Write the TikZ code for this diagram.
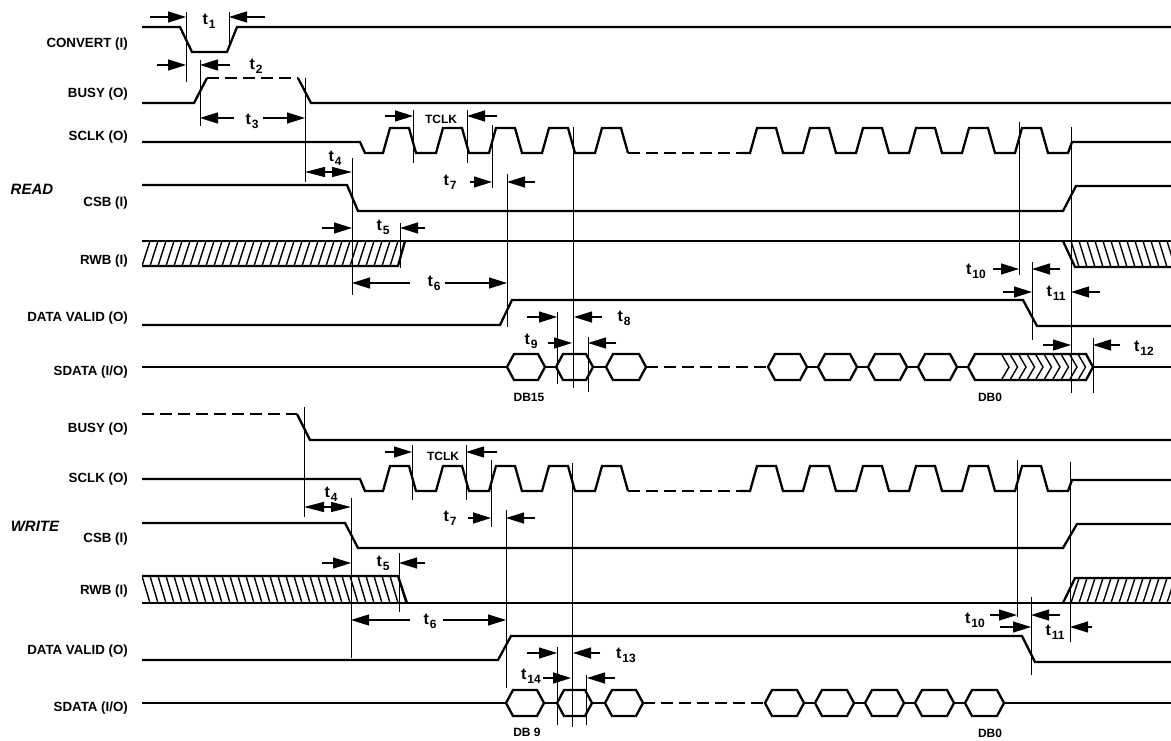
\documentclass[tikz,border=0pt]{standalone}
\usepackage{fontspec}
\setmainfont{Liberation Sans}
\usetikzlibrary{arrows.meta}

\newcommand{\tsub}[1]{{\fontsize{16}{16}\selectfont t}\kern1pt\raisebox{-4pt}{\fontsize{12}{12}\selectfont #1}}
\newcommand{\hexa}[3]{\draw[sig] (#1,#3) -- (#1+7,#3-13) -- (#2-7,#3-13) -- (#2,#3) -- (#2-7,#3+13) -- (#1+7,#3+13) -- cycle;}

\tikzset{
  sig/.style={line width=2.3pt},
  dsig/.style={sig, dash pattern=on 12pt off 6pt},
  guide/.style={line width=1pt},
  tarr/.style={line width=1.3pt, -{Triangle[length=18pt,width=11pt]}},
  darr/.style={line width=1.3pt, {Triangle[length=20pt,width=10pt]}-{Triangle[length=20pt,width=10pt]}},
  hatch/.style={line width=1.4pt},
  sname/.style={anchor=base east, inner sep=0pt, font=\bfseries\fontsize{13.3}{15}\selectfont},
  modelbl/.style={inner sep=0pt, font=\bfseries\itshape\fontsize{15}{17}\selectfont},
  tlab/.style={inner sep=0pt, font=\bfseries},
  dblabel/.style={inner sep=0pt, font=\bfseries\fontsize{12}{14}\selectfont}
}

\begin{document}
\begin{tikzpicture}[x=1pt,y=-1pt]
  \useasboundingbox (0,0) rectangle (1171,741);

  % Signal names
  \node[sname] (nConvert) at (128,47.5) {CONVERT (I)};
  \node[sname] (nBusyR) at (128,97.5) {BUSY (O)};
  \node[sname] (nSclkR) at (128,140.5) {SCLK (O)};
  \node[sname] (nCsbR) at (128,206.5) {CSB (I)};
  \node[sname] (nRwbR) at (128,264.5) {RWB (I)};
  \node[sname] (nValidR) at (128,321.5) {DATA VALID (O)};
  \node[sname] (nSdataR) at (128,375.5) {SDATA (I/O)};
  \node[sname] (nBusyW) at (128,432.5) {BUSY (O)};
  \node[sname] (nSclkW) at (128,482.5) {SCLK (O)};
  \node[sname] (nCsbW) at (128,542.5) {CSB (I)};
  \node[sname] (nRwbW) at (128,594.5) {RWB (I)};
  \node[sname] (nValidW) at (128,654.5) {DATA VALID (O)};
  \node[sname] (nSdataW) at (128,711.5) {SDATA (I/O)};
  \node[modelbl] (nRead) at (32,189) {READ};
  \node[modelbl] (nWrite) at (35,526) {WRITE};

  % READ waveforms
  \draw[sig] (142,27) -- (180,27) -- (192,52) -- (227,52) -- (237,27) -- (1171,27);
  \draw[sig] (142,103) -- (194,103) -- (207,78);
  \draw[dsig] (207,78) -- (298,78);
  \draw[sig] (298,78) -- (311,103) -- (1171,103);
  \draw[sig] (142,142) -- (360,142) -- (365,153)
    \foreach \x in {383,436,489,542,595} {-- (\x,153) -- (\x+7,128) -- (\x+26,128) -- (\x+33,153)};
  \draw[dsig] (628,153) -- (740,153);
  \draw[sig] (740,153)
    \foreach \x in {750,803,856,909,962,1015} {-- (\x,153) -- (\x+7,128) -- (\x+26,128) -- (\x+33,153)}
    -- (1068,153) -- (1072,142) -- (1171,142);
  \draw[sig] (142,185) -- (347,185) -- (358,211) -- (1063,211) -- (1076,186) -- (1171,186);
  % RWB read
  \draw[sig] (142,241) -- (1171,241);
  \begin{scope}
    \clip (142,241) -- (405,241) -- (398,266) -- (142,266) -- cycle;
    \foreach \x in {134,142,...,414} \draw[hatch] (\x,266) -- (\x+8,241);
  \end{scope}
  \draw[sig] (142,266) -- (398,266) -- (405,241);
  \begin{scope}
    \clip (1063,241) -- (1171,241) -- (1171,267) -- (1075,267) -- cycle;
    \foreach \x in {1063,1071,...,1175} \draw[hatch] (\x,241) -- (\x+8,267);
  \end{scope}
  \draw[sig] (1063,241) -- (1075,267) -- (1171,267);
  \draw[sig] (142,325) -- (500,325) -- (512,300) -- (1023,300) -- (1037,326) -- (1171,326);
  % SDATA read
  \draw[sig] (142,367) -- (507,367);
  \hexa{507}{545}{367}
  \draw[sig] (545,367) -- (556,367);
  \hexa{556}{593}{367}
  \draw[sig] (593,367) -- (606,367);
  \hexa{606}{646}{367}
  \draw[dsig] (646,367) -- (768,367);
  \foreach \x in {768,818,868,918} {
    \hexa{\x}{\x+39}{367}
    \draw[sig] (\x+39,367) -- (\x+50,367);
  }
  \hexa{968}{1093}{367}
  \foreach \i in {0,...,9} \draw[hatch] (1002+8.5*\i,355) -- (1009+8.5*\i,367) -- (1002+8.5*\i,379);
  \draw[sig] (1093,367) -- (1171,367);
  \node[dblabel] (db15) at (529,397) {DB15};
  \node[dblabel] (db0R) at (990,397) {DB0};

  % READ timing marks
  \draw[guide] (186,12) -- (186,82);
  \draw[guide] (229,12) -- (229,48);
  \draw[tarr] (150,17) -- (186,17);
  \draw[tarr] (265,17) -- (229,17);
  \node[tlab] (t1) at (209,21) {\tsub{1}};
  \draw[guide] (200,60) -- (200,126);
  \draw[tarr] (157,65) -- (186,65);
  \draw[tarr] (230,65) -- (200,65);
  \node[tlab] (t2) at (256,66) {\tsub{2}};
  \draw[tarr] (234,118) -- (200,118);
  \draw[tarr] (263,118) -- (305,118);
  \node[tlab] (t3) at (252,121) {\tsub{3}};
  \draw[guide] (305,78) -- (305,182);
  \draw[guide] (352,158) -- (352,295);
  \draw[darr] (305,172) -- (352,172);
  \node[tlab] (t4R) at (335,158) {\tsub{4}};
  \draw[guide] (413,110) -- (413,163);
  \draw[guide] (467,110) -- (467,163);
  \draw[tarr] (385,116) -- (413,116);
  \draw[tarr] (497,116) -- (467,116);
  \node[dblabel] (tclkR) at (441,119) {TCLK};
  \draw[guide] (492,125) -- (492,188);
  \draw[guide] (507,174) -- (507,327);
  \draw[tarr] (470,182) -- (492,182);
  \draw[tarr] (535,182) -- (507,182);
  \node[tlab] (t7R) at (450,182) {\tsub{7}};
  \draw[guide] (400,223) -- (400,268);
  \draw[tarr] (322,228) -- (352,228);
  \draw[tarr] (425,228) -- (400,228);
  \node[tlab] (t5R) at (383,227) {\tsub{5}};
  \draw[tarr] (410,283) -- (352,283);
  \draw[tarr] (445,283) -- (507,283);
  \node[tlab] (t6R) at (434,283) {\tsub{6}};
  \draw[guide] (573,127) -- (573,388);
  \draw[guide] (557,312) -- (557,384);
  \draw[tarr] (527,317) -- (557,317);
  \draw[tarr] (602,317) -- (574,317);
  \node[tlab] (t8) at (624,318) {\tsub{8}};
  \draw[guide] (588,337) -- (588,392);
  \draw[tarr] (548,343) -- (572,343);
  \draw[tarr] (616,343) -- (588,343);
  \node[tlab] (t9) at (531,341) {\tsub{9}};
  \draw[guide] (1019,122) -- (1019,275);
  \draw[guide] (1032,262) -- (1032,340);
  \draw[guide] (1071,127) -- (1071,393);
  \draw[tarr] (993,269) -- (1019,269);
  \draw[tarr] (1060,269) -- (1032,269);
  \node[tlab] (t10R) at (976,271) {\tsub{10}};
  \draw[tarr] (1003,292) -- (1032,292);
  \draw[tarr] (1100,292) -- (1071,292);
  \node[tlab] (t11R) at (1056,293) {\tsub{11}};
  \draw[guide] (1093,338) -- (1093,393);
  \draw[tarr] (1043,345) -- (1071,345);
  \draw[tarr] (1120,345) -- (1093,345);
  \node[tlab] (t12) at (1144,348) {\tsub{12}};

  % WRITE waveforms
  \draw[dsig] (142,414) -- (297,414);
  \draw[sig] (297,414) -- (310,440) -- (1171,440);
  \draw[sig] (142,479) -- (360,479) -- (365,491)
    \foreach \x in {383,436,489,542,595} {-- (\x,491) -- (\x+7,466) -- (\x+26,466) -- (\x+33,491)};
  \draw[dsig] (628,491) -- (740,491);
  \draw[sig] (740,491)
    \foreach \x in {750,803,856,909,962,1015} {-- (\x,491) -- (\x+7,466) -- (\x+26,466) -- (\x+33,491)}
    -- (1068,491) -- (1072,480) -- (1171,480);
  \draw[sig] (142,523) -- (345,523) -- (358,548) -- (1063,548) -- (1077,524) -- (1171,524);
  % RWB write
  \draw[sig] (142,603) -- (1171,603);
  \begin{scope}
    \clip (142,576) -- (398,576) -- (407,603) -- (142,603) -- cycle;
    \foreach \x in {134,142,...,414} \draw[hatch] (\x,576) -- (\x+8,603);
  \end{scope}
  \draw[sig] (142,576) -- (398,576) -- (407,603);
  \begin{scope}
    \clip (1063,603) -- (1075,578) -- (1171,578) -- (1171,603) -- cycle;
    \foreach \x in {1055,1063,...,1175} \draw[hatch] (\x,603) -- (\x+8,578);
  \end{scope}
  \draw[sig] (1063,603) -- (1075,578) -- (1171,578);
  \draw[sig] (142,660) -- (498,660) -- (511,636) -- (1022,636) -- (1035,662) -- (1171,662);
  % SDATA write
  \draw[sig] (142,703) -- (506,703);
  \hexa{506}{544}{703}
  \draw[sig] (544,703) -- (557,703);
  \hexa{557}{592}{703}
  \draw[sig] (592,703) -- (605,703);
  \hexa{605}{643}{703}
  \draw[dsig] (643,703) -- (765,703);
  \foreach \x in {765,815,865,915} {
    \hexa{\x}{\x+39}{703}
    \draw[sig] (\x+39,703) -- (\x+50,703);
  }
  \hexa{965}{1004}{703}
  \draw[sig] (1004,703) -- (1171,703);
  \node[dblabel] (db9) at (527,732) {DB 9};
  \node[dblabel] (db0W) at (990,733) {DB0};

  % WRITE timing marks
  \draw[guide] (304,407) -- (304,517);
  \draw[guide] (351,498) -- (351,658);
  \draw[darr] (304,507) -- (351,507);
  \node[tlab] (t4W) at (331,494) {\tsub{4}};
  \draw[guide] (412,445) -- (412,500);
  \draw[guide] (466,445) -- (466,500);
  \draw[tarr] (385,452) -- (412,452);
  \draw[tarr] (497,452) -- (466,452);
  \node[dblabel] (tclkW) at (443,456) {TCLK};
  \draw[guide] (491,460) -- (491,527);
  \draw[guide] (506,510) -- (506,688);
  \draw[tarr] (468,518) -- (491,518);
  \draw[tarr] (535,518) -- (506,518);
  \node[tlab] (t7W) at (450,518) {\tsub{7}};
  \draw[guide] (399,553) -- (399,612);
  \draw[tarr] (322,563) -- (351,563);
  \draw[tarr] (425,563) -- (399,563);
  \node[tlab] (t5W) at (383,563) {\tsub{5}};
  \draw[tarr] (410,620) -- (351,620);
  \draw[tarr] (443,620) -- (506,620);
  \node[tlab] (t6W) at (430,621) {\tsub{6}};
  \draw[guide] (572,463) -- (572,727);
  \draw[guide] (557,647) -- (557,725);
  \draw[tarr] (527,653) -- (557,653);
  \draw[tarr] (600,653) -- (573,653);
  \node[tlab] (t13) at (626,655) {\tsub{13}};
  \draw[guide] (586,675) -- (586,725);
  \draw[tarr] (543,678) -- (571,678);
  \draw[tarr] (615,678) -- (587,678);
  \node[tlab] (t14) at (531,676) {\tsub{14}};
  \draw[guide] (1017,460) -- (1017,617);
  \draw[guide] (1031,597) -- (1031,675);
  \draw[guide] (1070,462) -- (1070,642);
  \draw[tarr] (990,615) -- (1017,615);
  \draw[tarr] (1060,615) -- (1031,615);
  \node[tlab] (t10W) at (975,620) {\tsub{10}};
  \draw[tarr] (1000,627) -- (1031,627);
  \draw[tarr] (1092,627) -- (1070,627);
  \node[tlab] (t11W) at (1055,632) {\tsub{11}};
\end{tikzpicture}
\end{document}
